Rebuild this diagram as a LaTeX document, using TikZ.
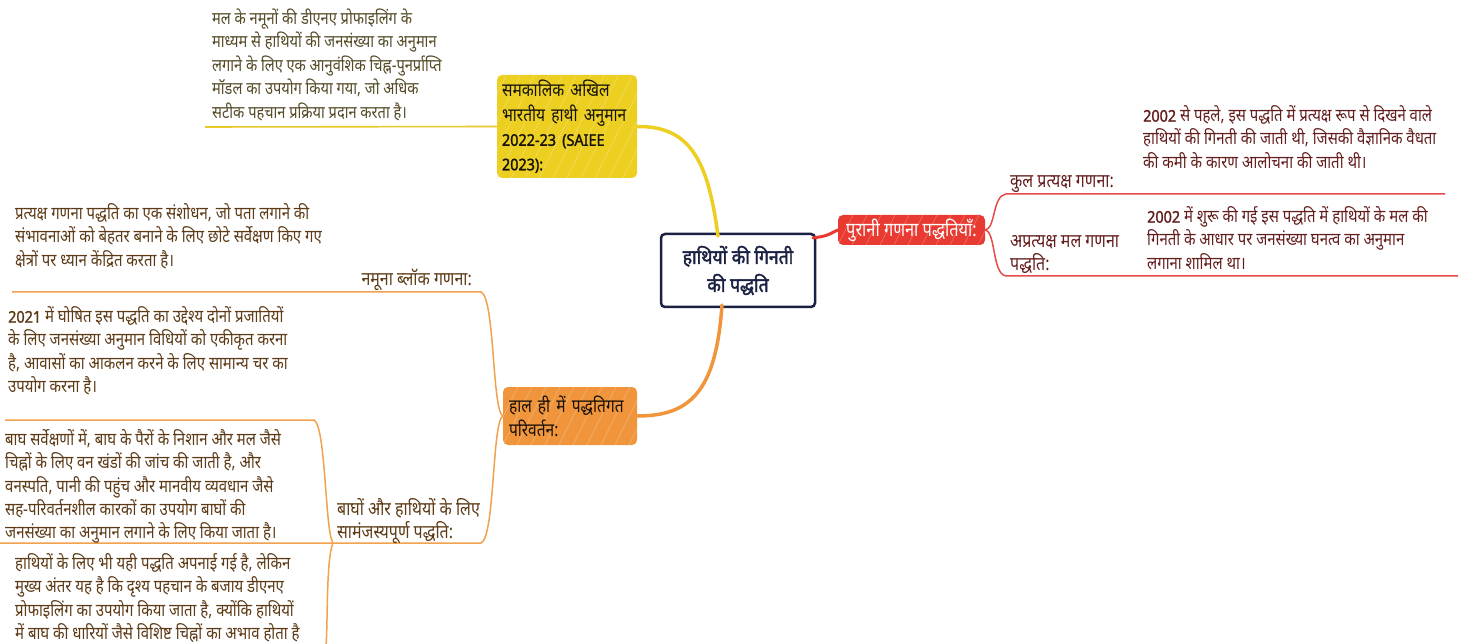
\documentclass[tikz,border=0pt]{standalone}
\usepackage{fontspec}
\newfontfamily\hin[Script=Devanagari,FakeStretch=0.84]{Noto Sans}
\newfontfamily\hinbold[Script=Devanagari,FakeBold=1.6,FakeStretch=0.9]{Noto Sans}
\newfontfamily\hinc[Script=Devanagari,FakeBold=1.8,FakeStretch=0.88]{Noto Sans}
\usetikzlibrary{calc}
\definecolor{ynode}{HTML}{EDCF22}
\definecolor{rnode}{HTML}{E93A31}
\definecolor{onode}{HTML}{F0953C}
\definecolor{yline}{HTML}{E9C927}
\definecolor{rline}{HTML}{E54B4B}
\definecolor{oline}{HTML}{F2A24E}
\definecolor{ytxt}{HTML}{544A26}
\definecolor{rtxt}{HTML}{641D1D}
\definecolor{otxt}{HTML}{5C3A16}
\definecolor{navy}{HTML}{1B2142}
\newcommand\fl{\rule{0pt}{1.12em}}
\newcommand\num[1]{{\hinbold\fontsize{16}{23}\selectfont #1}}
\tikzset{
  hatch/.style={path picture={
    \foreach \i in {-14,...,14}{
      \draw[white,opacity=0.3,line width=0.6pt]
        ($(path picture bounding box.south west)+(\i*14pt,0pt)$) -- ++(70pt,140pt);}}},
  topic/.style={rounded corners=5pt, inner sep=0pt, align=left, hatch},
  desc/.style={anchor=north west, inner sep=0pt, align=left, yshift=13.5pt,
    font=\hin\fontsize{17.8}{23.2}\selectfont},
  lab/.style={anchor=north west, inner sep=0pt, align=left, yshift=14.4pt,
    font=\hin\fontsize{19}{23.2}\selectfont},
  ydesc/.style={desc, text=ytxt, font=\hin\fontsize{17.4}{23.6}\selectfont},
  rdesc/.style={desc, text=rtxt},
  odesc/.style={desc, text=otxt},
  rlab/.style={lab, text=rtxt},
  olab/.style={lab, text=otxt},
  ymain/.style={draw=ynode, line width=3.5pt, line cap=round},
  rmain/.style={draw=rnode, line width=3pt, line cap=round},
  omain/.style={draw=onode, line width=3.5pt, line cap=round},
  ybr/.style={draw=yline, line width=1.6pt},
  rbr/.style={draw=rline, line width=1.5pt},
  obr/.style={draw=oline, line width=1.5pt},
}
\begin{document}
\begin{tikzpicture}[x=1pt,y=-1pt]
\useasboundingbox[fill=white] (0,0) rectangle (1465,644);

\coordinate (ystart) at (718,236);
\coordinate (rstart) at (813,238);
\coordinate (ostart) at (722,305);

% central node
\node[draw=navy, fill=white, line width=2.5pt, rounded corners=4pt,
  minimum width=154pt, minimum height=73pt, align=center, inner sep=0pt,
  font=\hinc\fontsize{20}{28}\selectfont, text=navy]
  (c) at (738,270.5) {हाथियों की गिनती\\की पद्धति};

% main topic nodes
\node[topic, fill=ynode, text=black!75!ytxt, minimum width=140pt, minimum height=103pt,
  text width=130pt, font=\hin\fontsize{18.5}{24.5}\selectfont]
  (y) at (567,126.5) {समकालिक अखिल\\भारतीय हाथी अनुमान\\{\hinbold\fontsize{16}{24.5}\selectfont 2022-23 (SAIEE}\\{\hinbold\fontsize{16}{24.5}\selectfont 2023):}};
\node[topic, fill=rnode, text=white, minimum width=147pt, minimum height=30pt,
  align=center, font=\hin\fontsize{19.5}{24}\selectfont]
  (r) at (911.5,230) {पुरानी गणना पद्धतियाँ:};
\node[topic, fill=onode, text=black!75!otxt, minimum width=134pt, minimum height=58pt,
  text width=122pt, font=\hin\fontsize{18.5}{24}\selectfont]
  (o) at (570,416) {हाल ही में पद्धतिगत\\परिवर्तन:};

\draw[ymain] (ystart) .. controls (708,160) and (690,126) .. (y.east);
\draw[rmain] (rstart) .. controls (826,236) .. (r.west);
\draw[omain] (ostart) .. controls (716,392) and (690,416) .. (o.east);

% yellow branch
\coordinate (yl) at (205,127);
\draw[ybr] (y.west) -- (yl);
\node[ydesc] (yd) at (212,18) {\fl मल के नमूनों की डीएनए प्रोफाइलिंग के\\माध्यम से हाथियों की जनसंख्या का अनुमान\\लगाने के लिए एक आनुवंशिक चिह्न-पुनर्प्राप्ति\\मॉडल का उपयोग किया गया, जो अधिक\\सटीक पहचान प्रक्रिया प्रदान करता है।};

% red branch
\coordinate (r1) at (1445,194);
\coordinate (r2) at (1458,276);
\draw[rbr] (r.east) .. controls (996,228) and (992,196) .. (1006,194) -- (r1);
\draw[rbr] (r.east) .. controls (996,232) and (992,274) .. (1006,276) -- (r2);
\node[rlab] (ra) at (1010,180) {\fl कुल प्रत्यक्ष गणना:};
\node[rdesc] (rad) at (1143,115) {\fl\num{2002} से पहले, इस पद्धति में प्रत्यक्ष रूप से दिखने वाले\\हाथियों की गिनती की जाती थी, जिसकी वैज्ञानिक वैधता\\की कमी के कारण आलोचना की जाती थी।};
\node[rlab] (rb) at (1010,240) {\fl अप्रत्यक्ष मल गणना\\पद्धति:};
\node[rdesc] (rbd) at (1147,216) {\fl\num{2002} में शुरू की गई इस पद्धति में हाथियों के मल की\\गिनती के आधार पर जनसंख्या घनत्व का अनुमान\\लगाना शामिल था।};

% orange branch
\coordinate (o1) at (12,292);
\coordinate (o2) at (0,543);
\coordinate (ob) at (333,543);
\coordinate (o3) at (5,420);
\coordinate (o4) at (326,646);
\draw[obr] (o.west) .. controls (492,410) and (495,298) .. (481,292) -- (o1);
\draw[obr] (o.west) .. controls (492,422) and (495,537) .. (481,543) -- (o2);
\draw[obr] (ob) .. controls (325,532) and (326,426) .. (314,420) -- (o3);
\draw[obr] (ob) .. controls (326,560) and (328,620) .. (o4);

\node[olab, anchor=north east] (oa) at (472,278) {\fl नमूना ब्लॉक गणना:};
\node[odesc] (oad) at (15,213) {\fl प्रत्यक्ष गणना पद्धति का एक संशोधन, जो पता लगाने की\\संभावनाओं को बेहतर बनाने के लिए छोटे सर्वेक्षण किए गए\\क्षेत्रों पर ध्यान केंद्रित करता है।};
\node[odesc] (ob1) at (8,316) {\fl\num{2021} में घोषित इस पद्धति का उद्देश्य दोनों प्रजातियों\\के लिए जनसंख्या अनुमान विधियों को एकीकृत करना\\है, आवासों का आकलन करने के लिए सामान्य चर का\\उपयोग करना है।};
\node[olab] (obl) at (337,508) {\fl बाघों और हाथियों के लिए\\सामंजस्यपूर्ण पद्धति:};
\node[odesc] (ob2) at (5,439) {\fl बाघ सर्वेक्षणों में, बाघ के पैरों के निशान और मल जैसे\\चिह्नों के लिए वन खंडों की जांच की जाती है, और\\वनस्पति, पानी की पहुंच और मानवीय व्यवधान जैसे\\सह-परिवर्तनशील कारकों का उपयोग बाघों की\\जनसंख्या का अनुमान लगाने के लिए किया जाता है।};
\node[odesc] (ob3) at (15,563) {\fl हाथियों के लिए भी यही पद्धति अपनाई गई है, लेकिन\\मुख्य अंतर यह है कि दृश्य पहचान के बजाय डीएनए\\प्रोफाइलिंग का उपयोग किया जाता है, क्योंकि हाथियों\\में बाघ की धारियों जैसे विशिष्ट चिह्नों का अभाव होता है};
\end{tikzpicture}
\end{document}
